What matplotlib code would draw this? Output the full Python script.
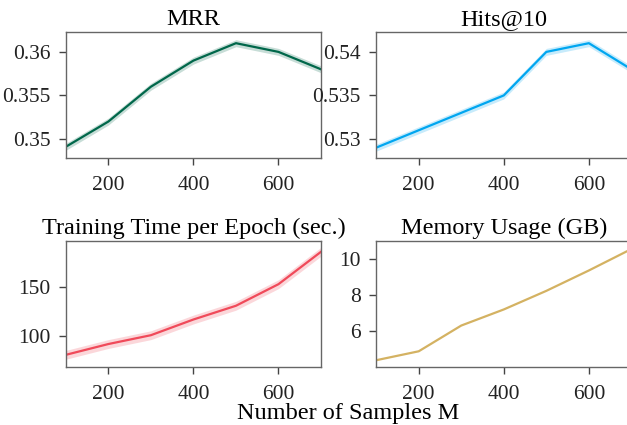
import numpy as np
import matplotlib.pyplot as plt

plt.rcParams['font.family'] = ['Liberation Serif', 'DejaVu Serif']
plt.rcParams['font.size'] = 15.5

samples = [100, 200, 300, 400, 500, 600, 700]
mrr = [0.3491, 0.352, 0.356, 0.359, 0.361, 0.360, 0.358]
mrr_err = [0.0004] * 7
hits = [0.529, 0.531, 0.533, 0.535, 0.540, 0.541, 0.538]
hits_err = [0.0004] * 7
train_time = [81, 92, 101, 117, 131, 153, 186]
train_err = [4.5] * 7
memory = [4.36, 4.86, 6.3, 7.2, 8.24, 9.38, 10.58]
memory_err = [0.0] * 7

titles = ['MRR', 'Hits@10', 'Training Time per Epoch (sec.)', 'Memory Usage (GB)']
series = [mrr, hits, train_time, memory]
errs = [mrr_err, hits_err, train_err, memory_err]
colors = ['#00674a', '#00a6f0', '#f04a5a', '#d4b262']
ylims = [(0.3478, 0.3623), (0.5278, 0.5423), (68.4, 197), (3.97, 11.03)]
yticks = [[0.35, 0.355, 0.36], [0.53, 0.535, 0.54], [100, 150], [6, 8, 10]]
yticklabels = [['0.35', '0.355', '0.36'], ['0.53', '0.535', '0.54'],
               ['100', '150'], ['6', '8', '10']]

fig = plt.figure(figsize=(6.27, 4.25), dpi=100)
w, h = 0.407, 0.297
pos = [(0.105, 0.628), (0.600, 0.628), (0.105, 0.136), (0.600, 0.136)]

x = np.array(samples)
for i in range(4):
    ax = fig.add_axes([pos[i][0], pos[i][1], w, h])
    y = np.array(series[i])
    e = np.array(errs[i])
    ax.fill_between(x, y - e, y + e, color=colors[i], alpha=0.22, lw=0)
    ax.plot(x, y, color=colors[i], lw=1.6)
    ax.set_xlim(100, 700)
    ax.set_ylim(*ylims[i])
    ax.set_xticks([200, 400, 600])
    ax.set_yticks(yticks[i])
    ax.set_yticklabels(yticklabels[i])
    ax.set_title(titles[i], fontsize=17.5, pad=5)
    for s in ax.spines.values():
        s.set_color('#666666')
        s.set_linewidth(1.0)
    ax.tick_params(labelcolor='#222222', color='#444444', length=5, width=1.0)
    ax.tick_params(axis='x', pad=8)
    ax.tick_params(axis='y', pad=6)

fig.text(0.555, 0.027, 'Number of Samples M', ha='center', va='center', fontsize=17.5)

fig.savefig('out.png', dpi=100)
